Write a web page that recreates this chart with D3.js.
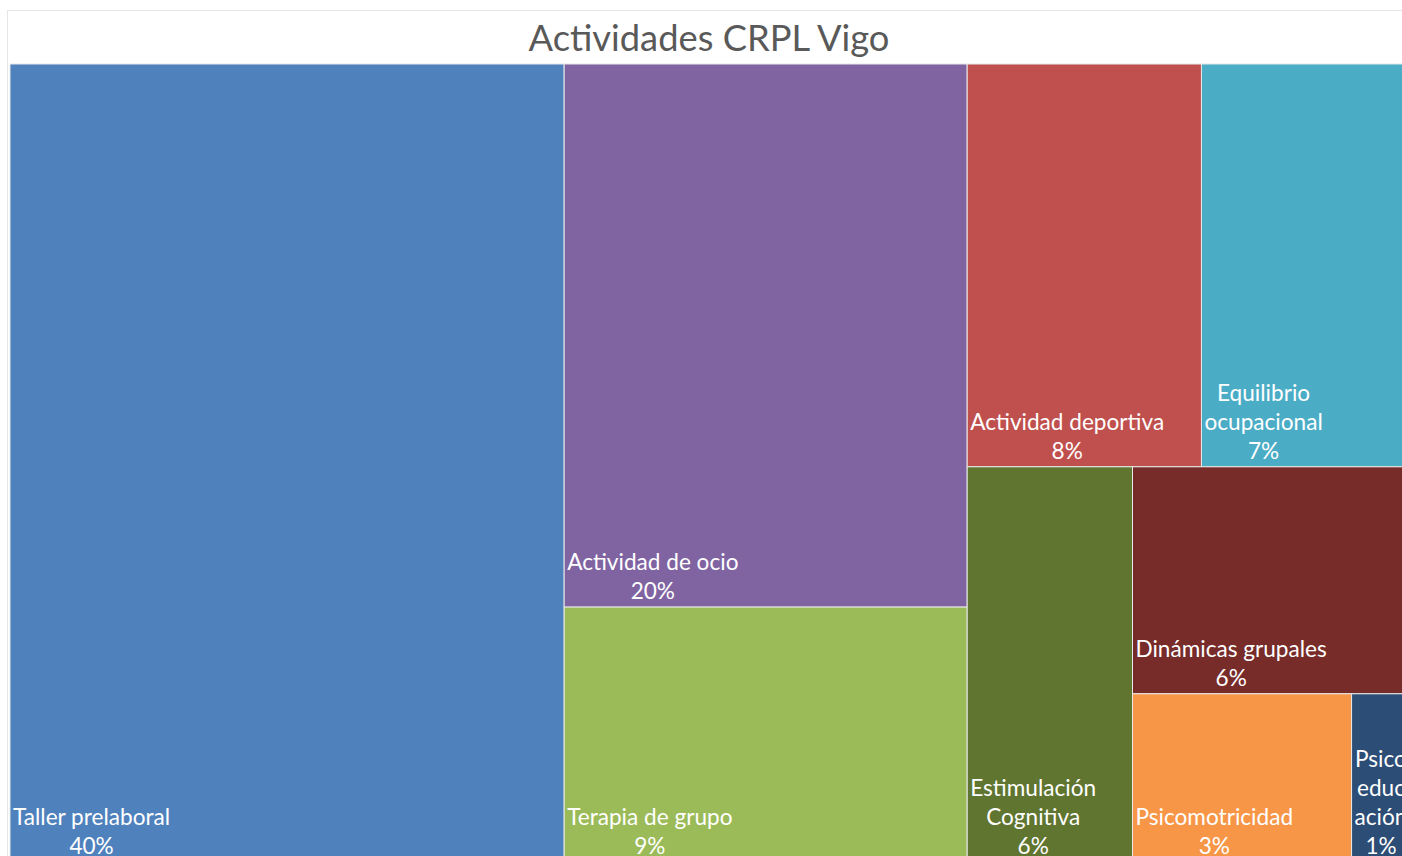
<!DOCTYPE html>
<html>
<head>
<meta charset="utf-8">
<script src="https://cdn.jsdelivr.net/npm/d3@7"></script>
<style>
    body { margin: 0; overflow: hidden; background: #fff; }
    svg { display: block; }
</style>
</head>
<body>
<div id="field"></div>
<script>

// data (share of activities, %)
const categorias = ["Taller prelaboral", "Actividad de ocio", "Terapia de grupo",
    "Actividad deportiva", "Equilibrio ocupacional", "Estimulación Cognitiva",
    "Dinámicas grupales", "Psicomotricidad", "Psicoeducación"];
const valores = [39.6, 19.6, 9.2, 8.45, 7.45, 5.85, 5.6, 3.3, 0.85];
const colores = ["#4F81BD", "#8064A2", "#9BBB59", "#C0504D", "#4BACC6",
    "#5F7530", "#772C2A", "#F79646", "#2C4D75"];
// grouping that reproduces the layout of the original treemap
const rutas = ["", "b", "b", "c/a", "c/a", "c/b", "c/b/d", "c/b/d/e", "c/b/d/e"];
const titulo = "Actividades CRPL Vigo";

const fontFamily = "Lato, 'Open Sans', sans-serif";
const labelSize = 22.6;
const lineHeight = 29;

const frameX = 7, frameY = 10;
const areaX = 10, areaY = 64;
const areaWidth = 1398, areaHeight = 798;

// build nested table for d3.hierarchy
const tree = {name: "root", children: []};
categorias.forEach(function(c, i) {
    let node = tree;
    rutas[i].split("/").filter(function(s) { return s.length; }).forEach(function(s) {
        let next = node.children.find(function(n) { return n.name === s && n.children; });
        if (!next) {
            next = {name: s, children: []};
            node.children.push(next);
        }
        node = next;
    });
    node.children.push({name: c, value: valores[i], color: colores[i]});
});

const root = d3.hierarchy(tree).sum(function(d) { return d.value || 0; });

d3.treemap()
    .tile(d3.treemapSliceDice)
    .size([areaWidth, areaHeight])(root);

const svg = d3.select("#field")
    .append("svg")
    .attr("width", 1420)
    .attr("height", 880);

svg.append("rect")
    .attr("x", frameX + 0.5)
    .attr("y", frameY + 0.5)
    .attr("width", 1404)
    .attr("height", 858)
    .attr("fill", "#fff")
    .attr("stroke", "#E6E6E6");

svg.append("text")
    .attr("x", frameX + 702)
    .attr("y", 51)
    .attr("text-anchor", "middle")
    .attr("font-family", fontFamily)
    .attr("font-size", 36.3)
    .attr("fill", "#595959")
    .text(titulo);

const area = svg.append("g")
    .attr("transform", "translate(" + areaX + "," + areaY + ")");

const leaves = root.leaves();
const pct = d3.format(".0%");

area.selectAll("rect.cell")
    .data(leaves)
    .enter().append("rect")
    .attr("class", "cell")
    .attr("x", function(d) { return d.x0; })
    .attr("y", function(d) { return d.y0; })
    .attr("width", function(d) { return d.x1 - d.x0; })
    .attr("height", function(d) { return d.y1 - d.y0; })
    .attr("fill", function(d) { return d.data.color; })
    .attr("stroke", "#E8E8E8")
    .attr("stroke-width", 1);

// text measuring helper
const meter = svg.append("text")
    .attr("font-family", fontFamily)
    .attr("font-size", labelSize)
    .attr("visibility", "hidden");

function measure(s) {
    meter.text(s);
    return meter.node().getComputedTextLength();
}

function wrap(text, maxWidth) {
    const lines = [];
    let current = "";
    text.split(" ").forEach(function(word) {
        const trial = current ? current + " " + word : word;
        if (measure(trial) <= maxWidth) {
            current = trial;
            return;
        }
        if (current) lines.push(current);
        current = "";
        // break long words by characters
        let piece = "";
        for (const ch of word) {
            if (measure(piece + ch) > maxWidth && piece) {
                lines.push(piece);
                piece = ch;
            } else {
                piece += ch;
            }
        }
        current = piece;
    });
    if (current) lines.push(current);
    return lines;
}

leaves.forEach(function(d) {
    const w = d.x1 - d.x0;
    const lines = wrap(d.data.name, w - 3);
    lines.push(pct(d.value / root.value));
    const blockWidth = d3.max(lines, measure);
    const cx = d.x0 + 3 + blockWidth / 2;
    const baseY = d.y1 - 8;

    const label = area.append("text")
        .attr("font-family", fontFamily)
        .attr("font-size", labelSize)
        .attr("fill", "#fff")
        .attr("text-anchor", "middle");

    lines.forEach(function(l, i) {
        label.append("tspan")
            .attr("x", cx)
            .attr("y", baseY - (lines.length - 1 - i) * lineHeight)
            .text(l);
    });
});

meter.remove();

</script>
</body>
</html>
